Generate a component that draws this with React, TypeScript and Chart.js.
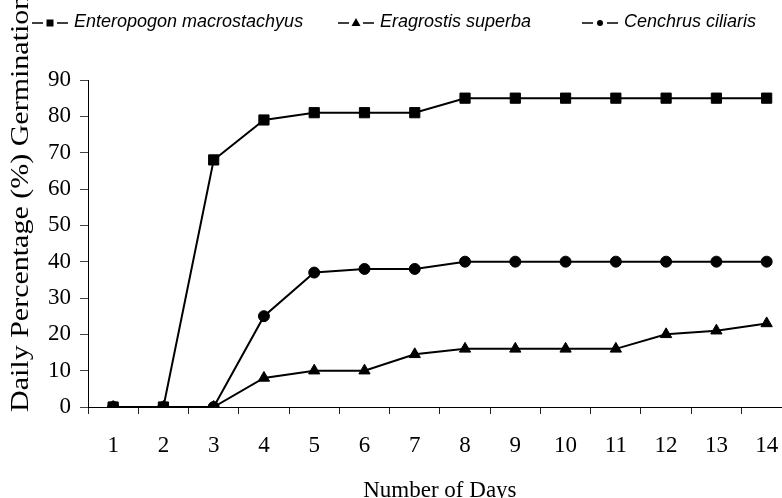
import { useEffect, useRef } from "react";
import { Chart, registerables } from "chart.js";

Chart.register(...registerables);

const days = ["1", "2", "3", "4", "5", "6", "7", "8", "9", "10", "11", "12", "13", "14"];
const enteropogon = [0, 0, 68, 79, 81, 81, 81, 85, 85, 85, 85, 85, 85, 85];
const eragrostis = [0, 0, 0, 8, 10, 10, 14.5, 16, 16, 16, 16, 20, 21, 23];
const cenchrus = [0, 0, 0, 25, 37, 38, 38, 40, 40, 40, 40, 40, 40, 40];
const seriesNames = ["Enteropogon macrostachyus", "Eragrostis superba", "Cenchrus ciliaris"];
const seriesMarkers = ["rect", "triangle", "circle"];
const yMin = 0;
const yMax = 90;
const yStep = 10;
const xTitle = "Number of Days";
const yTitle = "Daily Percentage (%) Germination";

const SERIF = '"Liberation Serif", "Times New Roman", serif';

const legendStarts = [32, 338, 582];

const legendPlugin = {
  id: "lineMarkerLegend",
  afterDraw(chart: any) {
    const ctx: CanvasRenderingContext2D = chart.ctx;
    ctx.save();
    const symY = 23;
    chart.data.datasets.forEach((ds: any, i: number) => {
      const x0 = legendStarts[i];
      const symW = 36;
      const cx = x0 + symW / 2;
      ctx.strokeStyle = "#000";
      ctx.fillStyle = "#000";
      ctx.lineWidth = 1.5;
      ctx.beginPath();
      ctx.moveTo(x0, symY);
      ctx.lineTo(cx - 7, symY);
      ctx.moveTo(cx + 7, symY);
      ctx.lineTo(x0 + symW, symY);
      ctx.stroke();
      ctx.beginPath();
      if (ds.pointStyle === "rect") {
        ctx.rect(cx - 3.5, symY - 3.5, 7, 7);
      } else if (ds.pointStyle === "triangle") {
        ctx.moveTo(cx, symY - 5);
        ctx.lineTo(cx + 4.5, symY + 3);
        ctx.lineTo(cx - 4.5, symY + 3);
        ctx.closePath();
      } else {
        ctx.arc(cx, symY, 3, 0, Math.PI * 2);
      }
      ctx.fill();
      ctx.font = 'italic 18px "Liberation Sans", Arial, sans-serif';
      ctx.textBaseline = "alphabetic";
      ctx.textAlign = "left";
      ctx.fillText(ds.label, x0 + symW + 6, 27);
    });
    ctx.restore();
  },
};

// Y-axis title drawn along the axis, starting near the bottom and running off the top (as in the reference)
const yTitlePlugin = {
  id: "stretchedYTitle",
  afterDraw(chart: any) {
    const ctx: CanvasRenderingContext2D = chart.ctx;
    const area = chart.chartArea;
    ctx.save();
    ctx.translate(21, area.bottom + 5);
    ctx.rotate(-Math.PI / 2);
    ctx.scale(1.2, 1);
    ctx.font = `25px ${SERIF}`;
    ctx.fillStyle = "#000";
    ctx.textAlign = "left";
    ctx.textBaseline = "middle";
    ctx.fillText(yTitle, 0, 0);
    ctx.restore();
  },
};

function makeDataset(label: string, data: number[], marker: string, radius: number) {
  return {
    label,
    data,
    borderColor: "#000",
    backgroundColor: "#000",
    borderWidth: 2,
    pointStyle: marker,
    pointRadius: radius,
    pointBackgroundColor: "#000",
    pointBorderColor: "#000",
    pointBorderWidth: 1,
    tension: 0,
    fill: false,
  };
}

export default function App() {
  const ref = useRef<HTMLCanvasElement>(null);
  useEffect(() => {
    document.body.style.margin = "0";
    document.body.style.overflow = "hidden";
    const chart = new Chart(ref.current as HTMLCanvasElement, {
      type: "line",
      data: {
        labels: days,
        datasets: [
          makeDataset(seriesNames[0], enteropogon, seriesMarkers[0], 7.2),
          makeDataset(seriesNames[1], eragrostis, seriesMarkers[1], 6.5),
          makeDataset(seriesNames[2], cenchrus, seriesMarkers[2], 5.5),
        ] as any,
      },
      options: {
        responsive: false,
        animation: false,
        layout: { padding: { top: 80, left: 0, right: 4, bottom: 0 } },
        plugins: {
          legend: { display: false },
          tooltip: { enabled: false },
        },
        scales: {
          x: {
            type: "category",
            offset: true,
            grid: {
              offset: true,
              drawOnChartArea: false,
              drawTicks: true,
              tickLength: 7,
              color: "#222",
            },
            border: { display: true, color: "#000", width: 1 },
            ticks: {
              autoSkip: false,
              maxRotation: 0,
              padding: 18,
              color: "#000",
              font: { family: SERIF, size: 23 },
            },
            title: {
              display: true,
              text: xTitle,
              color: "#000",
              font: { family: SERIF, size: 23, lineHeight: 1 },
              padding: { top: 0, bottom: -4 },
            },
            afterFit(scale: any) {
              scale.height = 91;
            },
          },
          y: {
            min: yMin,
            max: yMax,
            ticks: {
              stepSize: yStep,
              padding: 9,
              color: "#000",
              font: { family: SERIF, size: 23 },
            },
            grid: {
              drawOnChartArea: false,
              drawTicks: true,
              tickLength: 8,
              color: "#444",
            },
            border: { display: true, color: "#000", width: 1 },
            title: { display: false },
            afterFit(scale: any) {
              scale.width = 88;
            },
          },
        },
      } as any,
      plugins: [legendPlugin, yTitlePlugin],
    });
    return () => chart.destroy();
  }, []);
  return <canvas ref={ref} width={800} height={498} style={{ display: "block" }} />;
}
